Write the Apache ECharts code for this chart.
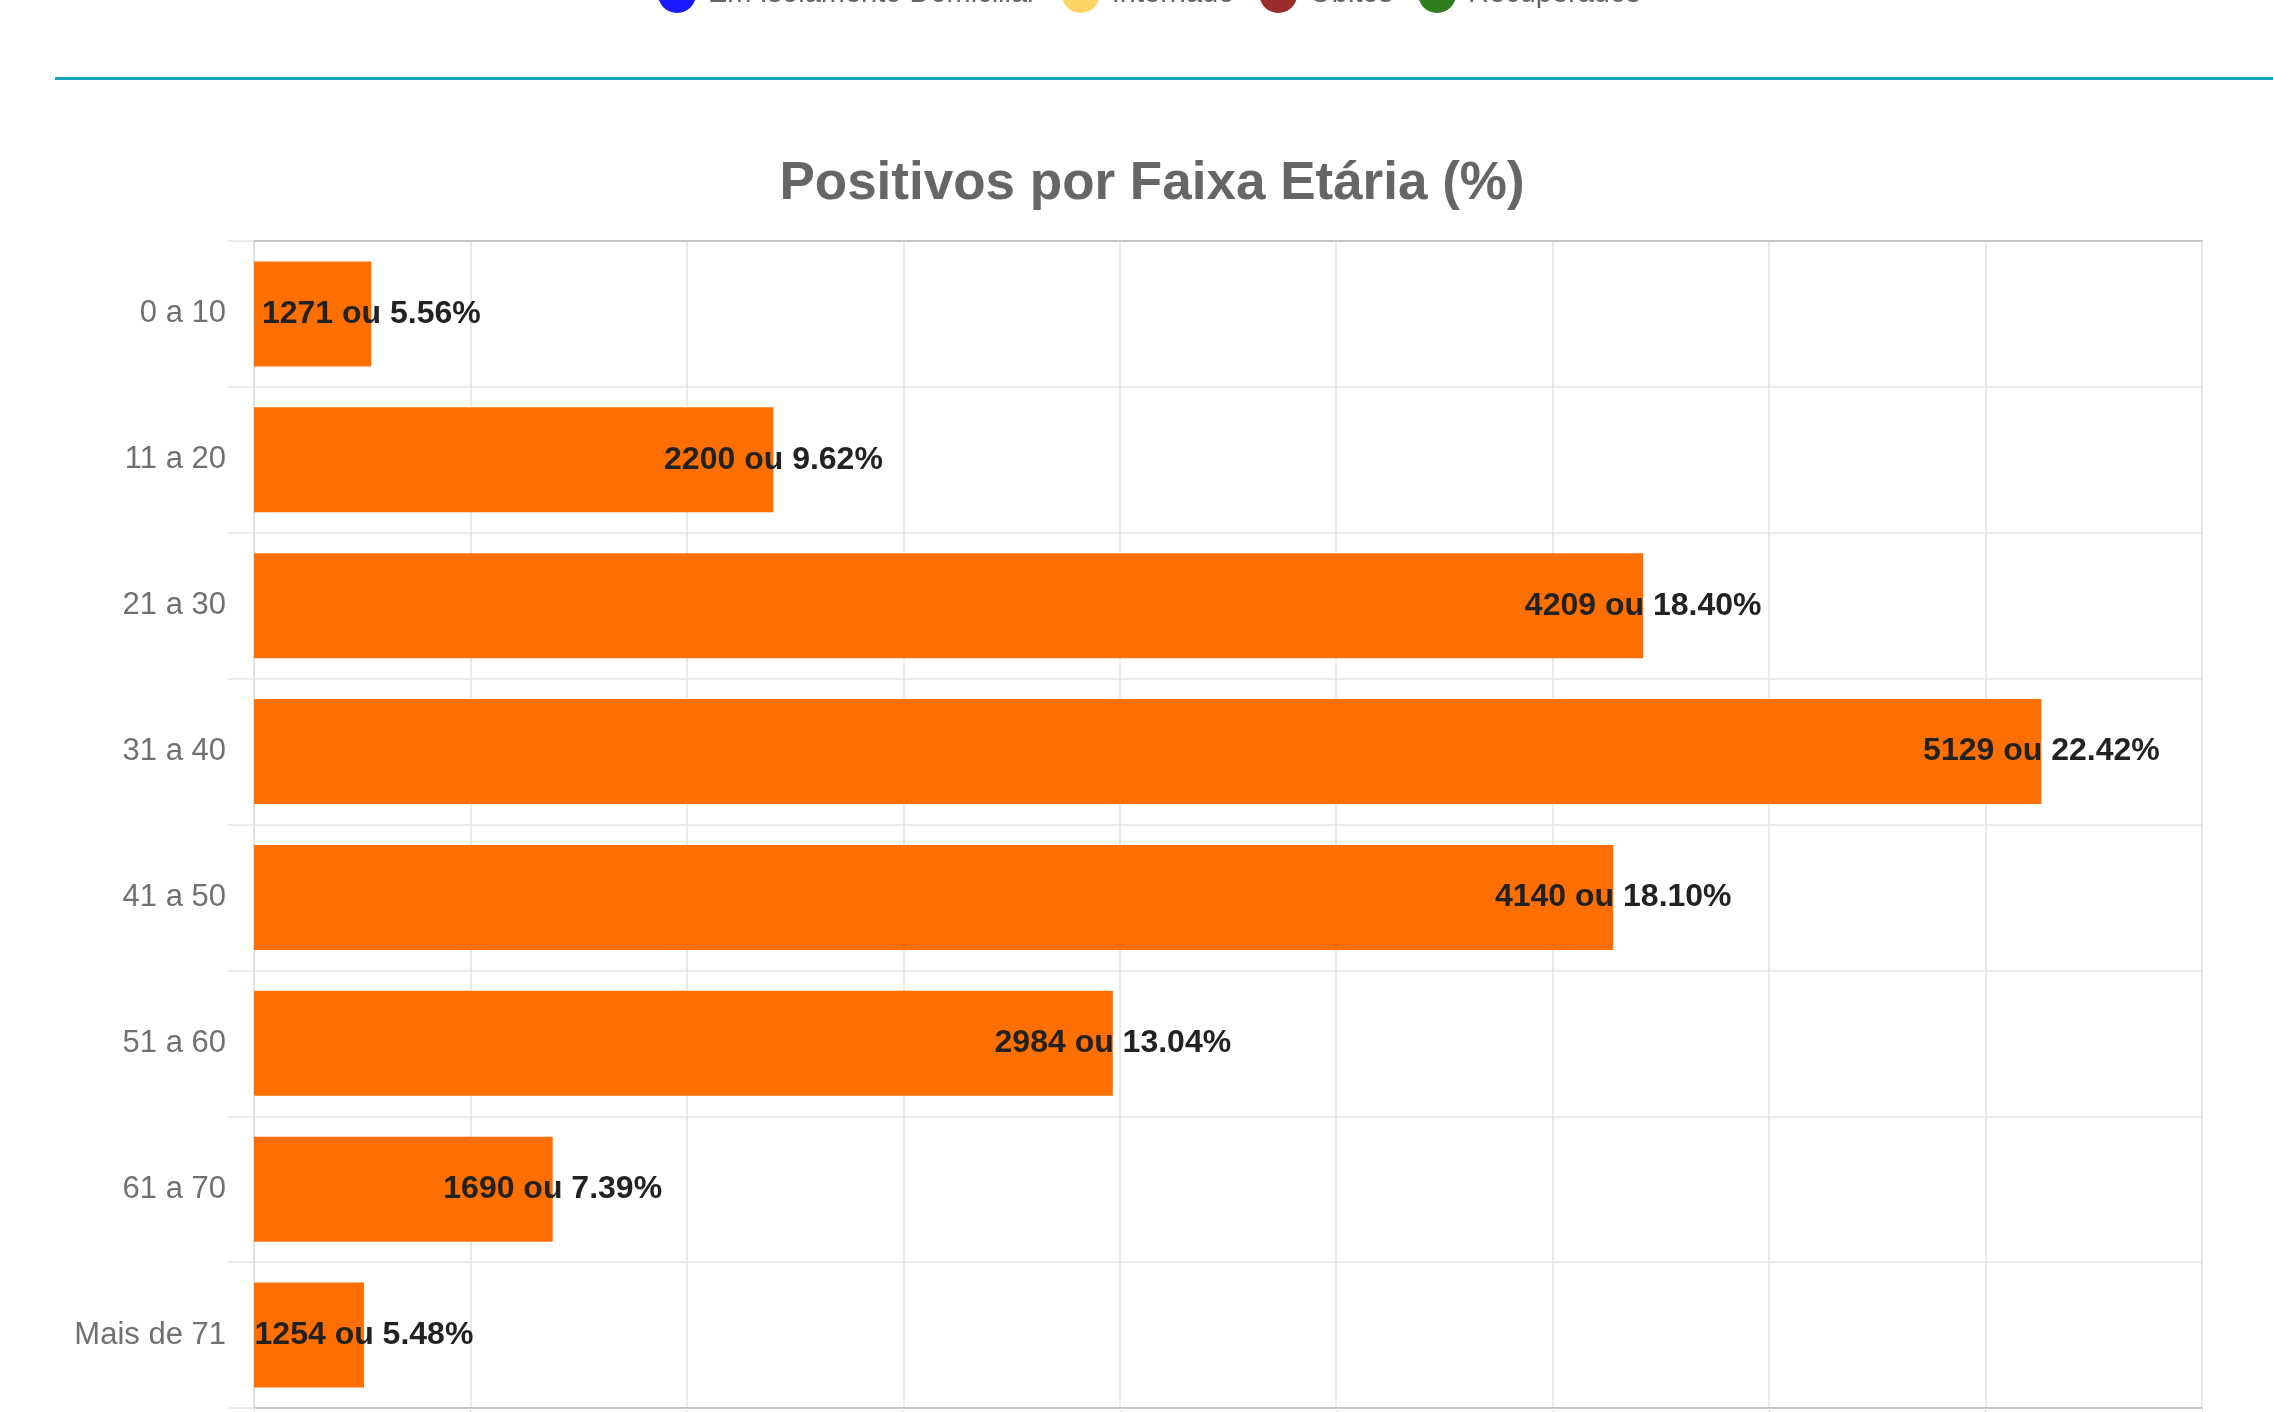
<!DOCTYPE html>
<html>
<head>
<meta charset="utf-8">
<script src="https://cdn.jsdelivr.net/npm/echarts@6/dist/echarts.min.js"></script>
<style>
html,body{margin:0;padding:0;background:#fff;}
#c{width:2273px;height:1412px;position:relative;}
#sep{position:absolute;left:55px;right:0;top:77px;height:3px;background:#17a2b8;z-index:2;}
</style>
</head>
<body>
<div id="c"></div>
<div id="sep"></div>
<script>
const categories = ['0 a 10','11 a 20','21 a 30','31 a 40','41 a 50','51 a 60','61 a 70','Mais de 71'];
const counts = [1271, 2200, 4209, 5129, 4140, 2984, 1690, 1254];
const percents = [5.56, 9.62, 18.40, 22.42, 18.10, 13.04, 7.39, 5.48];
const xTicks = [1000, 1500, 2000, 2500, 3000, 3500, 4000, 4500, 5000, 5500];
const legendNames = ['Em Isolamento Domiciliar', 'Internado', 'Óbitos', 'Recuperados'];
const legendColors = ['#1a1aff', '#ffd466', '#9b2c2c', '#2e7d1e'];
const titleText = 'Positivos por Faixa Etária (%)';

const FONT = '"Liberation Sans", Arial, Helvetica, sans-serif';
const chart = echarts.init(document.getElementById('c'), null, {renderer: 'canvas'});

const legendSeries = legendNames.map((n, i) => ({
  name: n, type: 'line', data: [], itemStyle: {color: legendColors[i]}, silent: true
}));

chart.setOption({
  backgroundColor: '#ffffff',
  animation: false,
  title: {
    text: titleText,
    left: 1147,
    top: 153,
    textAlign: 'center',
    textStyle: {fontFamily: FONT, fontSize: 53, fontWeight: 'bold', color: '#666666'}
  },
  legend: {
    data: legendNames,
    left: 653,
    top: -30,
    icon: 'circle',
    itemWidth: 52,
    itemHeight: 38,
    itemGap: 25,
    textStyle: {fontFamily: FONT, fontSize: 29, color: '#666666'}
  },
  grid: {left: 254, right: 71, top: 241, bottom: 4, containLabel: false, outerBoundsMode: 'none'},
  xAxis: [{
    type: 'value',
    position: 'bottom',
    min: xTicks[0],
    max: xTicks[xTicks.length - 1],
    interval: xTicks[1] - xTicks[0],
    axisLine: {show: true, lineStyle: {color: '#c8c8c8', width: 2}},
    axisTick: {show: true, length: 20, lineStyle: {color: '#e6e6e6'}},
    axisLabel: {fontFamily: FONT, fontSize: 28, color: '#666666', margin: 26},
    splitLine: {show: true, lineStyle: {color: '#e3e3e3', width: 1.5}}
  }, {
    type: 'value',
    position: 'top',
    min: xTicks[0],
    max: xTicks[xTicks.length - 1],
    interval: xTicks[1] - xTicks[0],
    axisLine: {show: true, lineStyle: {color: '#c6c6c6', width: 2}},
    axisTick: {show: false},
    axisLabel: {show: false},
    splitLine: {show: false}
  }],
  yAxis: {
    type: 'category',
    data: categories,
    inverse: true,
    axisLine: {show: true, lineStyle: {color: '#dcdcdc', width: 1.5}},
    axisTick: {show: true, length: 26, lineStyle: {color: '#e3e3e3', width: 1.5}},
    axisLabel: {fontFamily: FONT, fontSize: 31, color: '#707070', margin: 28},
    splitLine: {show: true, lineStyle: {color: '#e3e3e3', width: 1.5}}
  },
  series: [{
    name: 'Positivos',
    type: 'bar',
    xAxisIndex: 0,
    data: counts,
    barWidth: '72%',
    clip: true,
    itemStyle: {color: '#ff6f00'},
    label: {
      show: true,
      position: 'right',
      distance: 0,
      align: 'center',
      fontFamily: FONT,
      fontSize: 32,
      fontWeight: 'bold',
      color: '#222222',
      formatter: p => counts[p.dataIndex] + ' ou ' + percents[p.dataIndex].toFixed(2) + '%'
    }
  }].concat(legendSeries)
});
</script>
</body>
</html>
